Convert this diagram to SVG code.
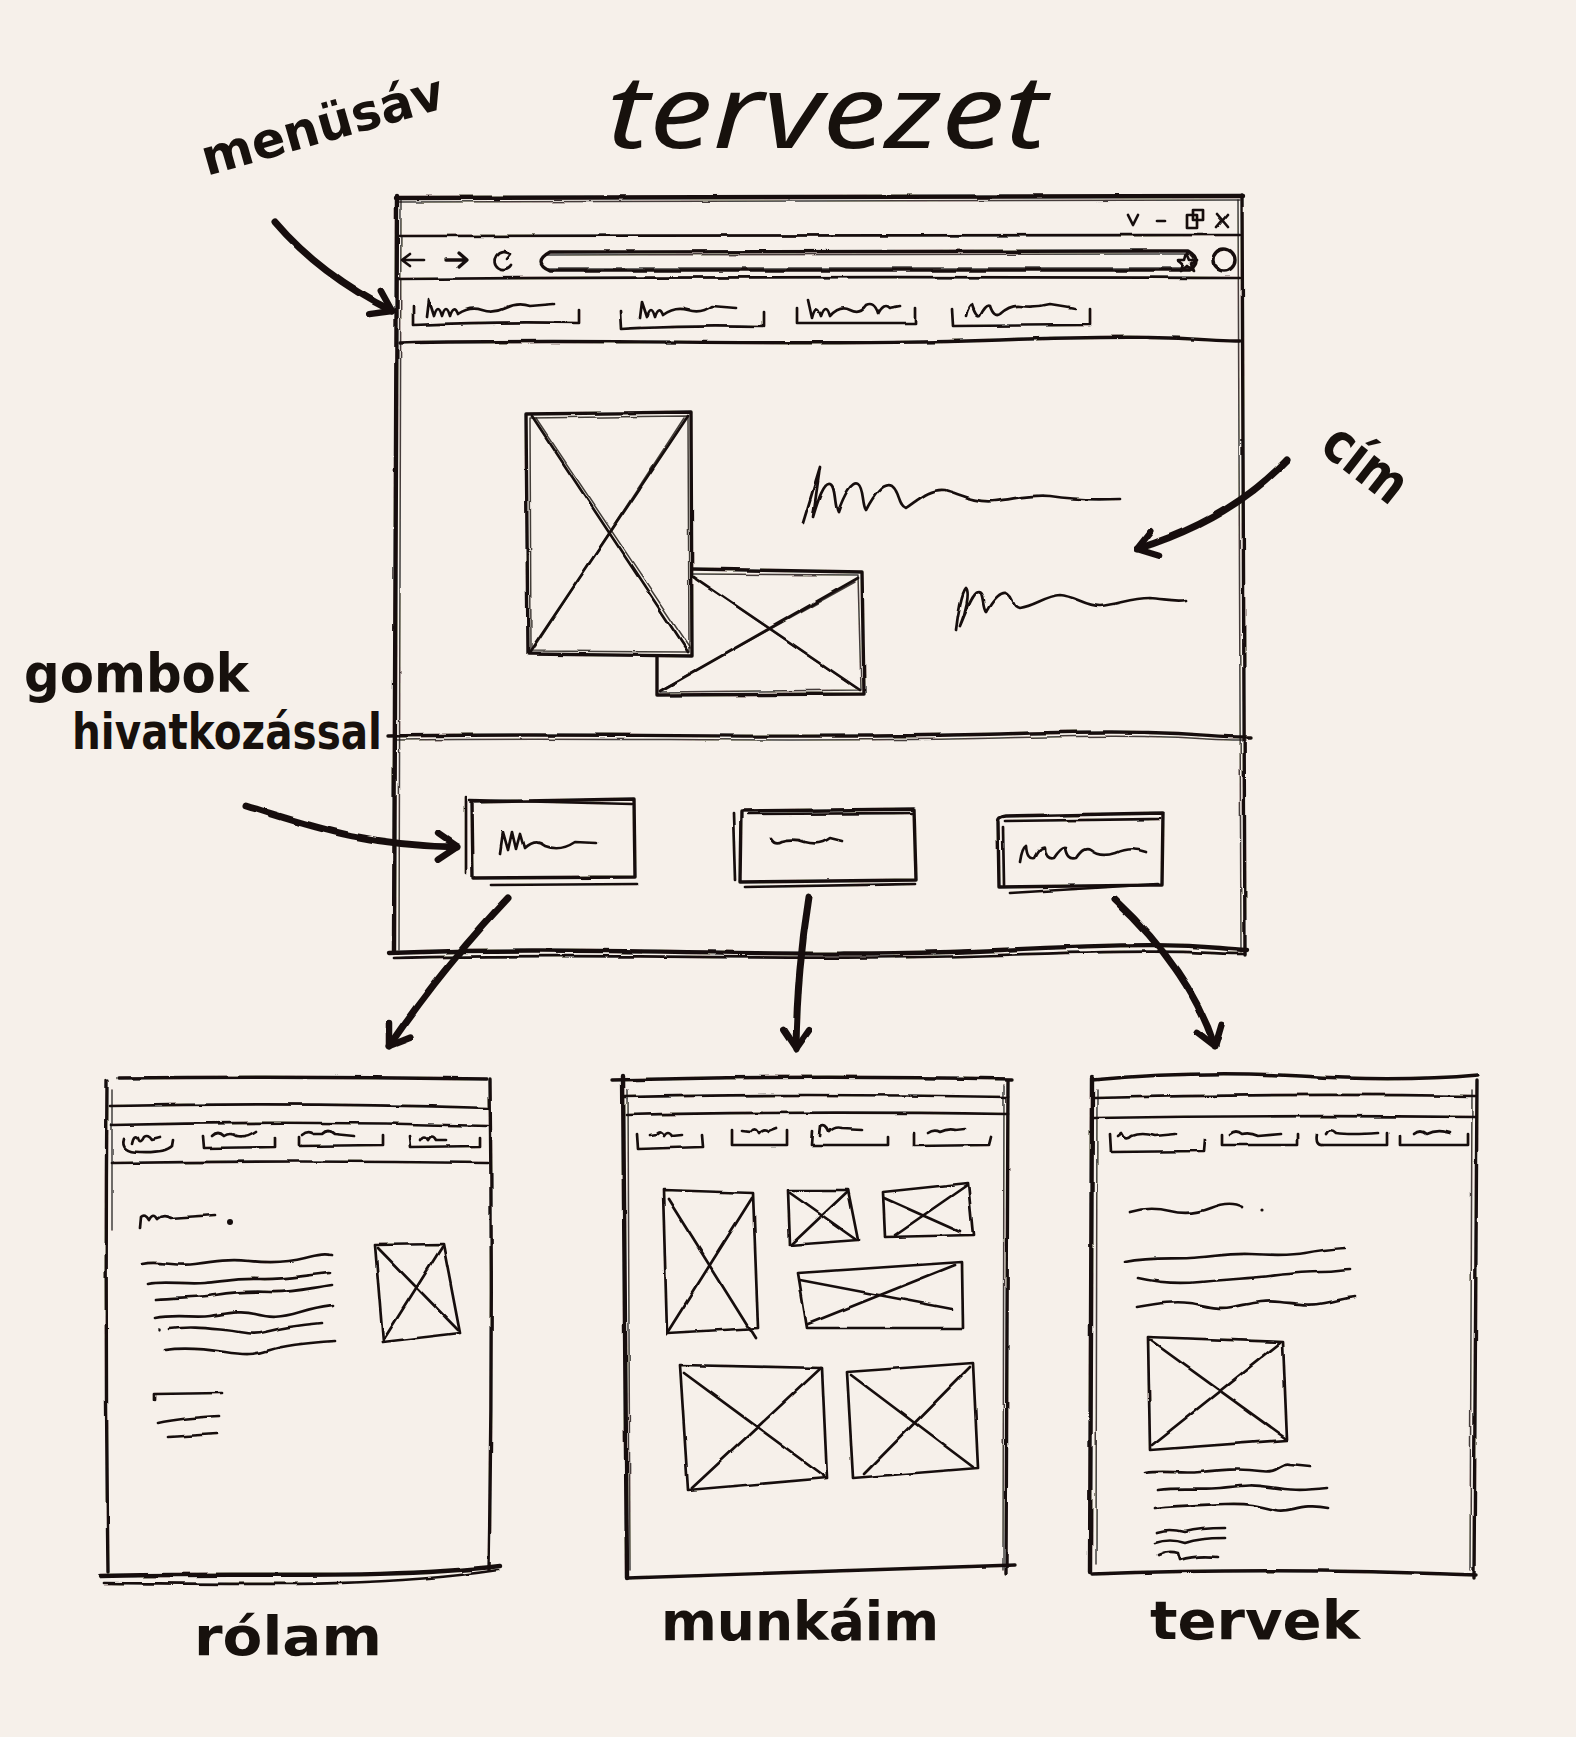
<svg xmlns="http://www.w3.org/2000/svg" width="1576" height="1737" viewBox="0 0 1576 1737">
  <defs>
    <style>
      .ink { fill: none; stroke: #17110d; stroke-linecap: round; stroke-linejoin: round; }
      .w1 { stroke-width: 1.5; opacity: 0.8; }
      .w2 { stroke-width: 2.7; }
      .w3 { stroke-width: 3.4; }
      .w4 { stroke-width: 4.4; }
      .arrow { fill: none; stroke: #17110d; stroke-width: 7; stroke-linecap: round; marker-end: url(#head); }
      .paper { fill: #f6f0ea; }
      .hand { font-family: "DejaVu Sans", "Liberation Sans", sans-serif; font-weight: bold; fill: #17110d; }
      .title { font-family: "Noto Sans", "DejaVu Sans", sans-serif; font-style: italic; font-weight: normal; fill: #17110d; }
    </style>
    <filter id="rough" x="-5%" y="-5%" width="110%" height="110%">
      <feTurbulence type="fractalNoise" baseFrequency="0.035" numOctaves="2" seed="3"/>
      <feDisplacementMap in="SourceGraphic" scale="3" xChannelSelector="R" yChannelSelector="G"/>
    </filter>
    <marker id="head" viewBox="-24 -16 28 32" markerWidth="28" markerHeight="32" refX="0" refY="0" orient="auto" markerUnits="userSpaceOnUse">
      <path d="M-19,-13 L0,0 L-19,13" fill="none" stroke="#17110d" stroke-width="6.5" stroke-linecap="round" stroke-linejoin="round"/>
    </marker>
  </defs>

  <rect class="paper" x="0" y="0" width="1576" height="1737"/>

  <!-- headings and notes -->
  <text id="label-tervezet" class="title" x="607" y="148" font-size="102" textLength="440" lengthAdjust="spacingAndGlyphs">tervezet</text>
  <text id="label-menusav" class="hand" x="207" y="176" font-size="50" textLength="250" lengthAdjust="spacingAndGlyphs" transform="rotate(-16 207 176)">menüsáv</text>
  <text id="label-cim" class="hand" x="1318" y="450" font-size="56" textLength="92" lengthAdjust="spacingAndGlyphs" transform="rotate(38 1318 450)">cím</text>
  <text id="label-gombok" class="hand" x="24" y="692" font-size="54" textLength="225" lengthAdjust="spacingAndGlyphs">gombok</text>
  <text id="label-hivatkozassal" class="hand" x="72" y="749" font-size="50" textLength="310" lengthAdjust="spacingAndGlyphs">hivatkozással</text>
  <text id="label-rolam" class="hand" x="194" y="1655" font-size="54" textLength="188" lengthAdjust="spacingAndGlyphs">rólam</text>
  <text id="label-munkaim" class="hand" x="661" y="1640" font-size="54" textLength="278" lengthAdjust="spacingAndGlyphs">munkáim</text>
  <text id="label-tervek" class="hand" x="1150" y="1639" font-size="54" textLength="210" lengthAdjust="spacingAndGlyphs">tervek</text>

  <!-- main browser window -->
  <g id="main-window" filter="url(#rough)">
    <!-- frame -->
    <path class="ink w4" d="M396,198 L1243,196"/>
    <path class="ink w1" d="M399,202 L1240,200"/>
    <path class="ink w4" d="M397,196 L394,952"/>
    <path class="ink w1" d="M401,200 L399,950"/>
    <path class="ink w3" d="M1242,195 L1245,955"/>
    <path class="ink w1" d="M1238,200 L1241,952"/>
    <path class="ink w4" d="M389,953 C600,945 800,960 1000,950 S1200,948 1247,950"/>
    <path class="ink w2" d="M395,958 C600,952 800,962 1000,955 S1200,954 1245,954"/>
    <!-- title bar, navigation bar, menu bar -->
    <path class="ink w2" d="M398,236 L1240,235"/>
    <path class="ink w2" d="M398,279 Q800,276 1240,278"/>
    <path class="ink w3" d="M400,343 C600,338 800,347 1000,340 S1200,342 1240,341"/>
    <!-- window controls -->
    <path class="ink w2" d="M1128,215 L1133,225 L1138,215"/>
    <path class="ink w2" d="M1157,221 L1165,221"/>
    <rect class="ink w2" x="1187" y="215" width="10" height="13"/>
    <rect class="ink w2" x="1193" y="210" width="10" height="10"/>
    <path class="ink w2" d="M1217,214 L1228,227 M1228,214 L1217,227"/>
    <!-- back, forward, reload -->
    <path class="ink w2" d="M402,260 L424,260 M410,254 L402,260 L410,266"/>
    <path class="ink w3" d="M446,260 L466,260 M459,253 L467,260 L459,267"/>
    <path class="ink w2" d="M509,254 A9,9 0 1 0 511,266 M504,251 L510,254 L506,259"/>
    <!-- address bar -->
    <path class="ink w3" d="M550,252 L1188,251 Q1203,260 1190,270 L550,270 Q532,262 550,252 Z"/>
    <path class="ink w1" d="M545,255 L1190,254 Q1200,262 1188,268 L548,268"/>
    <path class="ink w2" d="M1187,253 L1190,260 L1197,260 L1191,264 L1194,271 L1187,266 L1181,271 L1183,264 L1178,260 L1185,260 Z"/>
    <circle class="ink w3" cx="1224" cy="260" r="11"/>
    <!-- menu tabs -->
    <path class="ink w2" d="M413,306 L413,325 Q500,321 579,323 L579,310"/>
    <path class="ink w2" d="M427,317 L429,300 L434,316 Q438,302 442,316 Q446,302 450,316 Q454,304 458,314 Q470,306 482,310 T506,308 T530,306 L554,304"/>
    <path class="ink w2" d="M620,311 L621,329 Q690,325 764,327 L764,312"/>
    <path class="ink w2" d="M640,318 L642,302 L647,317 Q651,303 655,317 Q659,305 663,315 Q675,306 688,310 T712,306 L736,308"/>
    <path class="ink w2" d="M797,308 L797,323 L915,323 L915,308"/>
    <path class="ink w2" d="M808,300 L812,318 Q816,302 821,316 Q826,302 830,316 Q840,305 850,310 T866,306 Q874,302 878,314 Q884,302 890,308 L900,306"/>
    <path class="ink w2" d="M952,309 L953,326 L1090,325 L1090,309"/>
    <path class="ink w2" d="M966,316 Q968,306 972,305 Q976,318 980,316 Q986,304 990,306 Q994,318 1000,314 Q1010,305 1020,306 Q1035,308 1050,304 L1075,308"/>
    <!-- hero images (back one first) -->
    <path class="ink w3" d="M692,569 L862,572 L864,694 L657,695 L657,656"/>
    <path class="ink w1" d="M692,574 L858,575 L861,690 L660,692"/>
    <path class="ink w2" d="M694,577 L860,690 M660,691 L858,578"/>
    <path class="ink w1" d="M697,580 L856,688 M664,688 L855,582"/>
    <path class="paper" d="M526,414 L691,412 L692,656 L528,654 Z"/>
    <path class="ink w3" d="M526,414 L691,412 L692,656 L528,654 Z"/>
    <path class="ink w1" d="M530,418 L688,416 L689,652 L531,651 Z"/>
    <path class="ink w2" d="M532,416 L688,652 M688,416 L530,652"/>
    <path class="ink w1" d="M536,418 L690,648 M684,418 L534,648"/>
    <!-- heading scribbles -->
    <path class="ink w2" d="M803,523 L820,467 L813,517 C818,500 824,482 830,484 C836,486 834,505 838,512 C844,495 852,480 858,484 C864,488 862,505 866,510 C874,495 884,482 892,486 C900,492 898,505 906,508 C918,500 930,488 945,490 C960,494 975,503 995,501 C1015,499 1030,494 1050,496 C1075,500 1095,500 1120,499"/>
    <path class="ink w2" d="M956,630 C958,612 962,592 966,588 C970,592 966,612 960,626 C966,612 972,594 978,592 C984,592 982,608 986,612 C994,598 1002,590 1008,594 C1014,598 1012,606 1020,608 C1035,606 1045,596 1060,595 C1075,596 1085,606 1100,606 C1120,604 1130,598 1150,598 C1165,599 1175,602 1186,600"/>
    <!-- divider above the buttons -->
    <path class="ink w3" d="M388,736 C600,732 800,740 1000,734 S1200,738 1251,737"/>
    <path class="ink w1" d="M395,740 C600,737 800,743 1000,738 S1200,741 1246,740"/>
    <!-- link buttons -->
    <path class="ink w3" d="M472,802 L634,799 L635,877 L473,878 Z"/>
    <path class="ink w2" d="M466,797 L466,873 M491,885 L637,884 M470,800 L632,804"/>
    <path class="ink w2" d="M500,853 L503,832 L508,850 L512,832 L516,849 L520,834 L524,848 Q535,838 545,846 Q560,852 575,842 L596,843"/>
    <path class="ink w3" d="M741,811 L914,809 L916,880 L740,882 Z"/>
    <path class="ink w2" d="M733,813 L735,880 M745,887 L915,884 M748,814 L912,813"/>
    <path class="ink w2" d="M771,838 Q775,845 782,841 Q795,838 805,842 Q820,846 830,838 L842,841"/>
    <path class="ink w3" d="M998,822 Q996,817 1005,816 L1163,813 L1162,885 L999,887 Z"/>
    <path class="ink w2" d="M1010,893 L1158,884 M1003,827 L1004,885 M1005,821 L1160,819"/>
    <path class="ink w2" d="M1020,862 Q1022,848 1026,846 Q1027,860 1034,858 Q1040,846 1045,848 Q1046,860 1054,858 Q1062,846 1066,848 Q1068,860 1076,858 Q1084,846 1090,850 Q1100,858 1115,853 Q1130,846 1146,852"/>
  </g>

  <!-- page: about me -->
  <g id="window-rolam" filter="url(#rough)">
    <path class="ink w3" d="M118,1078 Q300,1076 487,1079"/>
    <path class="ink w3" d="M107,1080 Q105,1330 108,1572"/>
    <path class="ink w1" d="M112,1090 L112,1230"/>
    <path class="ink w3" d="M490,1080 Q493,1330 489,1570"/>
    <path class="ink w4" d="M100,1576 C250,1572 380,1580 500,1566"/>
    <path class="ink w2" d="M104,1583 C250,1584 380,1588 498,1570"/>
    <path class="ink w2" d="M110,1106 Q300,1102 488,1108"/>
    <path class="ink w2" d="M112,1125 Q300,1120 488,1126"/>
    <path class="ink w2" d="M112,1163 Q300,1160 488,1163"/>
    <path class="ink w2" d="M124,1139 Q120,1152 140,1152 Q165,1153 172,1146 L173,1140"/>
    <path class="ink w2" d="M132,1143 Q134,1133 138,1138 Q140,1145 144,1137 Q148,1134 152,1140 L160,1138"/>
    <path class="ink w2" d="M203,1136 L204,1148 L275,1147 L275,1137"/>
    <path class="ink w2" d="M212,1136 Q218,1130 224,1136 Q230,1132 236,1136 Q246,1138 256,1131"/>
    <path class="ink w2" d="M299,1137 L299,1146 L382,1145 L382,1135"/>
    <path class="ink w2" d="M302,1135 Q308,1130 314,1134 L322,1134 Q328,1128 334,1134 L354,1136"/>
    <path class="ink w2" d="M410,1136 L411,1147 L480,1146 L480,1138"/>
    <path class="ink w2" d="M420,1140 Q424,1133 428,1140 Q432,1133 436,1140 L446,1140"/>
    <!-- heading and text lines -->
    <path class="ink w2" d="M140,1228 L141,1217 Q145,1213 149,1220 Q153,1212 157,1219 Q163,1214 170,1218 L215,1215"/>
    <circle cx="230" cy="1222" r="3" fill="#17110d"/>
    <path class="ink w2" d="M142,1264 C160,1260 175,1267 195,1264 S230,1259 250,1261 S290,1262 305,1258 S325,1254 332,1255"/>
    <path class="ink w2" d="M148,1284 C165,1280 185,1285 205,1283 S240,1278 260,1279 S300,1276 330,1273"/>
    <path class="ink w2" d="M155,1299 C175,1297 195,1298 215,1295 S250,1291 270,1292 S310,1288 332,1285"/>
    <path class="ink w2" d="M155,1318 C175,1314 195,1318 210,1316 S240,1310 255,1314 S280,1318 300,1312 S325,1306 333,1305"/>
    <circle cx="160" cy="1330" r="1.8" fill="#17110d"/>
    <path class="ink w2" d="M170,1329 C190,1326 205,1328 225,1330 S250,1336 265,1332 S300,1325 322,1323"/>
    <path class="ink w2" d="M165,1350 C185,1347 205,1349 225,1352 S255,1355 270,1350 S305,1343 335,1341"/>
    <path class="ink w2" d="M375,1245 L443,1244 L460,1333 L383,1342 Z"/>
    <path class="ink w2" d="M378,1248 L458,1330 M442,1247 L384,1339"/>
    <path class="ink w2" d="M155,1400 L155,1394 L222,1393"/>
    <path class="ink w2" d="M158,1423 Q180,1418 220,1416"/>
    <path class="ink w2" d="M168,1437 L217,1434"/>
  </g>

  <!-- page: my works -->
  <g id="window-munkaim" filter="url(#rough)">
    <path class="ink w3" d="M612,1080 Q800,1075 1012,1079"/>
    <path class="ink w4" d="M623,1076 L627,1578"/>
    <path class="ink w1" d="M628,1090 L630,1570"/>
    <path class="ink w3" d="M1008,1080 L1006,1574"/>
    <path class="ink w1" d="M1004,1085 L1003,1570"/>
    <path class="ink w3" d="M628,1578 Q820,1572 1015,1565"/>
    <path class="ink w2" d="M625,1097 Q800,1093 1008,1097"/>
    <path class="ink w2" d="M627,1115 Q800,1111 1008,1114"/>
    <path class="ink w2" d="M637,1134 L638,1149 L703,1147 L702,1135"/>
    <path class="ink w2" d="M650,1135 L657,1134 Q661,1130 664,1136 Q668,1130 672,1136 L682,1135"/>
    <path class="ink w2" d="M732,1130 L732,1145 L787,1145 L787,1131"/>
    <path class="ink w2" d="M742,1131 L750,1132 Q754,1126 758,1134 Q763,1128 768,1132 L776,1129"/>
    <path class="ink w2" d="M813,1131 L812,1145 L888,1145 L888,1137"/>
    <path class="ink w2" d="M820,1136 L821,1127 Q826,1124 829,1132 Q835,1126 842,1128 L862,1129"/>
    <path class="ink w2" d="M914,1133 L914,1146 L988,1145 L990,1137"/>
    <path class="ink w2" d="M928,1133 Q934,1129 940,1132 Q948,1128 956,1130 L965,1129"/>
    <!-- image grid -->
    <path class="ink w2" d="M663,1190 L753,1193 L758,1328 L667,1333 Z"/>
    <path class="ink w2" d="M668,1199 L755,1338 M752,1198 L667,1333"/>
    <path class="ink w2" d="M788,1190 L848,1190 L858,1240 L790,1245 Z"/>
    <path class="ink w2" d="M790,1193 L855,1239 M848,1191 L792,1244"/>
    <path class="ink w2" d="M883,1192 L968,1183 L973,1235 L885,1237 Z"/>
    <path class="ink w2" d="M884,1198 L960,1232 M967,1185 L895,1235"/>
    <path class="ink w2" d="M798,1273 L962,1262 L963,1328 L807,1328 Z"/>
    <path class="ink w2" d="M800,1280 L952,1309 M955,1265 L808,1324"/>
    <path class="ink w2" d="M680,1365 L822,1368 L827,1478 L688,1490 Z"/>
    <path class="ink w2" d="M684,1373 L825,1477 M821,1368 L692,1488"/>
    <path class="ink w2" d="M847,1372 L973,1363 L978,1468 L853,1478 Z"/>
    <path class="ink w2" d="M851,1375 L973,1467 M970,1367 L864,1474"/>
  </g>

  <!-- page: plans -->
  <g id="window-tervek" filter="url(#rough)">
    <path class="ink w3" d="M1092,1080 Q1200,1070 1300,1076 T1478,1075"/>
    <path class="ink w4" d="M1092,1078 L1090,1572"/>
    <path class="ink w1" d="M1097,1090 L1096,1565"/>
    <path class="ink w3" d="M1477,1080 L1474,1578"/>
    <path class="ink w1" d="M1472,1090 L1470,1570"/>
    <path class="ink w3" d="M1092,1574 Q1280,1567 1476,1575"/>
    <path class="ink w2" d="M1094,1098 Q1280,1093 1475,1096"/>
    <path class="ink w2" d="M1094,1118 Q1280,1115 1475,1117"/>
    <path class="ink w2" d="M1110,1134 L1111,1152 L1204,1151 L1205,1139"/>
    <path class="ink w2" d="M1118,1136 L1122,1133 Q1126,1142 1132,1136 Q1142,1132 1155,1136 L1176,1134"/>
    <path class="ink w2" d="M1222,1134 L1222,1145 L1298,1145 L1298,1134"/>
    <path class="ink w2" d="M1230,1134 Q1236,1129 1242,1134 Q1250,1132 1258,1136 L1281,1134"/>
    <path class="ink w2" d="M1317,1134 Q1315,1146 1323,1145 L1387,1145 L1387,1133"/>
    <path class="ink w2" d="M1326,1134 Q1330,1127 1336,1133 Q1350,1135 1378,1133"/>
    <path class="ink w2" d="M1400,1136 L1400,1145 L1468,1145 L1468,1135"/>
    <path class="ink w2" d="M1414,1134 Q1420,1129 1426,1134 Q1436,1129 1450,1133"/>
    <path class="ink w2" d="M1130,1212 Q1150,1206 1170,1211 T1210,1208 T1243,1207"/>
    <circle cx="1262" cy="1210" r="1.6" fill="#17110d"/>
    <path class="ink w2" d="M1125,1262 C1150,1257 1170,1259 1190,1258 S1230,1253 1250,1254 S1290,1256 1305,1253 S1330,1249 1345,1248"/>
    <path class="ink w2" d="M1138,1278 C1160,1283 1180,1284 1200,1282 S1240,1279 1260,1277 S1300,1272 1320,1272 S1340,1270 1350,1270"/>
    <path class="ink w2" d="M1137,1307 C1160,1303 1175,1301 1190,1303 S1215,1310 1232,1307 S1260,1300 1280,1302 S1310,1306 1325,1303 S1345,1298 1355,1297"/>
    <path class="ink w2" d="M1148,1337 L1283,1342 L1287,1440 L1150,1450 Z"/>
    <path class="ink w2" d="M1150,1340 L1285,1438 M1280,1343 L1152,1445"/>
    <path class="ink w2" d="M1145,1473 C1165,1470 1180,1474 1200,1472 S1240,1468 1260,1471 S1280,1462 1290,1465 L1310,1467"/>
    <path class="ink w2" d="M1158,1490 C1180,1487 1200,1490 1220,1488 S1250,1484 1270,1487 S1300,1491 1327,1488"/>
    <path class="ink w2" d="M1155,1508 C1180,1505 1200,1505 1225,1504 S1260,1506 1275,1510 S1300,1502 1328,1508"/>
    <path class="ink w2" d="M1157,1532 Q1170,1528 1185,1532 Q1200,1528 1225,1528"/>
    <path class="ink w2" d="M1155,1543 Q1170,1538 1185,1543 Q1200,1538 1225,1538"/>
    <path class="ink w2" d="M1158,1555 Q1168,1550 1178,1553 L1180,1560 Q1195,1555 1218,1557"/>
  </g>

  <!-- arrows -->
  <g id="connectors" filter="url(#rough)">
    <path class="arrow" d="M275,222 Q320,275 392,311"/>
    <path class="arrow" d="M246,806 C300,822 360,846 457,847"/>
    <path class="arrow" d="M1287,460 Q1230,520 1137,549"/>
    <path class="arrow" d="M508,898 Q443,967 389,1046"/>
    <path class="arrow" d="M809,897 Q797,970 796,1049"/>
    <path class="arrow" d="M1115,900 Q1190,970 1215,1047"/>
  </g>
</svg>
